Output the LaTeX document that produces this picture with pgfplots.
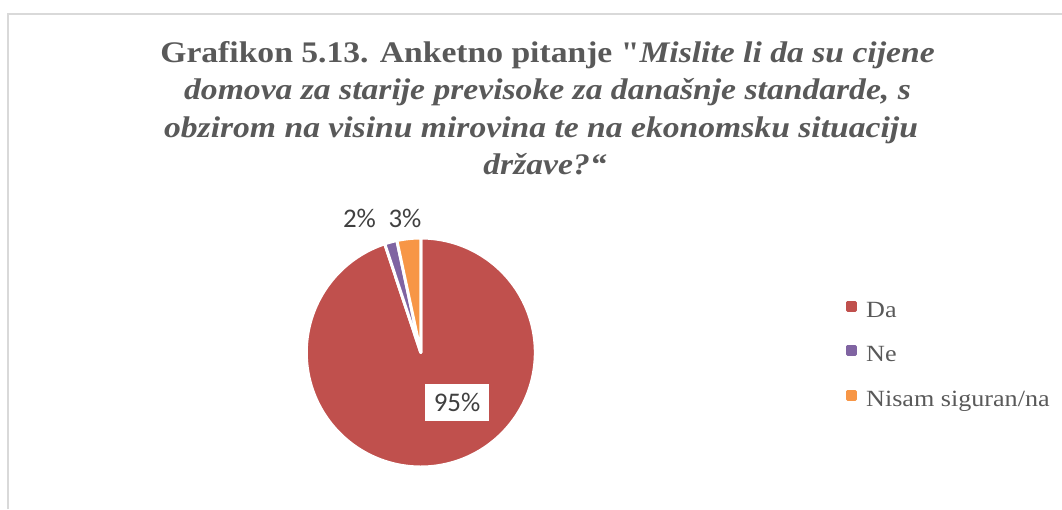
\documentclass[border=0pt]{standalone}
\usepackage{fontspec}
\setmainfont{Liberation Serif}
\newfontfamily\titlefont[FakeStretch=1.125]{Liberation Serif}
\newfontfamily\labelfont{Carlito}
\usepackage{pgfplots}
\usepackage{pgfplotstable}
\pgfplotsset{compat=1.18}
\definecolor{cDa}{HTML}{C0504D}
\definecolor{cNe}{HTML}{8064A2}
\definecolor{cNs}{HTML}{F79646}
\definecolor{tgray}{HTML}{595959}
\definecolor{lgray}{HTML}{404040}
\definecolor{bgray}{HTML}{D9D9D9}
\pgfplotstableread{
label value
Da 94.9
Ne 1.75
Nisam 3.35
}\piedata
\pgfplotstablegetelem{0}{value}\of\piedata \let\vDa\pgfplotsretval
\pgfplotstablegetelem{1}{value}\of\piedata \let\vNe\pgfplotsretval
\pgfplotstablegetelem{2}{value}\of\piedata \let\vNs\pgfplotsretval
\pgfmathsetmacro{\aA}{3.6*\vDa}
\pgfmathsetmacro{\aB}{3.6*(\vDa+\vNe)}
\pgfmathsetmacro{\aC}{3.6*(\vDa+\vNe+\vNs)}
\def\cx{420.8}
\def\cy{352.5}
\def\R{114.5}
\begin{document}
\begin{tikzpicture}
\begin{axis}[
  width=1062bp, height=509bp, scale only axis,
  xmin=0, xmax=1062, ymin=0, ymax=509, y dir=reverse,
  hide axis, clip=false,
  legend cell align=left,
  legend style={at={(axis cs:846,300.5)}, anchor=north west, draw=none, fill=none,
    inner sep=0pt, row sep=23bp, font=\titlefont\fontsize{23.3}{26}\selectfont, text=tgray,
    nodes={inner sep=0pt, text height=16bp, text depth=5bp}},
]
\addplot[fill=cDa, draw=white, line width=3bp, line join=round, domain=0:\aA, samples=240, variable=\t,
  legend image code/.code={\fill[cDa] (0bp,1.5bp) rectangle (8bp,9.5bp);}]
  ({\cx+\R*sin(\t)}, {\cy-\R*cos(\t)}) -- (axis cs:\cx,\cy) -- cycle;
\addlegendentry{\hspace{9bp}Da}
\addplot[fill=cNe, draw=white, line width=3bp, line join=round, domain=\aA:\aB, samples=10, variable=\t,
  legend image code/.code={\fill[cNe] (0bp,1.5bp) rectangle (8bp,9.5bp);}]
  ({\cx+\R*sin(\t)}, {\cy-\R*cos(\t)}) -- (axis cs:\cx,\cy) -- cycle;
\addlegendentry{\hspace{9bp}Ne}
\addplot[fill=cNs, draw=white, line width=3bp, line join=round, domain=\aB:\aC, samples=15, variable=\t,
  legend image code/.code={\fill[cNs] (0bp,1.5bp) rectangle (8bp,9.5bp);}]
  ({\cx+\R*sin(\t)}, {\cy-\R*cos(\t)}) -- (axis cs:\cx,\cy) -- cycle;
\addlegendentry{\hspace{9bp}Nisam siguran/na}
% border
\draw[bgray, line width=2bp] (axis cs:8.3,509) -- (axis cs:8.3,14.3) -- (axis cs:1062,14.3);
% title
\begin{scope}[every node/.style={text=tgray, anchor=base, inner sep=0pt, font=\titlefont\fontsize{30}{37}\selectfont\bfseries}]
\node at (axis cs:547.5,62.3) {Grafikon 5.13. Anketno pitanje {\char"22}\textit{Mislite li da su cijene}};
\node at (axis cs:547.5,99.5) {\itshape domova za starije previsoke za današnje standarde, s};
\node at (axis cs:541,137) {\itshape obzirom na visinu mirovina te na ekonomsku situaciju};
\node at (axis cs:545,174) {\itshape države?“};
\end{scope}
% data labels
\node[fill=white, text=lgray, font=\labelfont\fontsize{27}{30}\selectfont, minimum width=64bp, minimum height=37bp, inner sep=0pt] at (axis cs:457,402.5) {95\%};
\node[text=lgray, font=\labelfont\fontsize{27}{30}\selectfont, inner sep=0pt] at (axis cs:359.5,218.5) {2\%};
\node[text=lgray, font=\labelfont\fontsize{27}{30}\selectfont, inner sep=0pt] at (axis cs:405,218.5) {3\%};
\end{axis}
\pgfresetboundingbox
\useasboundingbox (current axis.south west) rectangle (current axis.north east);
\end{tikzpicture}
\end{document}
